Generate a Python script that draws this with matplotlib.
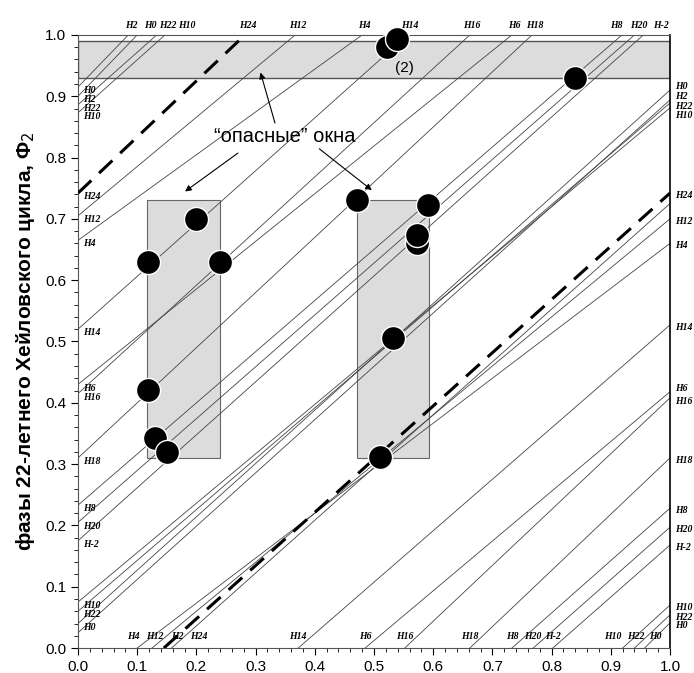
import matplotlib
matplotlib.use("Agg")
import matplotlib.pyplot as plt
from matplotlib.patches import Rectangle

# линии фаз: метка в начале, метка в конце, начало (x0, y0), конец (x1, y1)
name_start = ["H0", "H2", "H22", "H10", "H24", "H12", "H4", "H14", "H6", "H16",
              "H18", "H8", "H20", "H-2",
              "H10", "H22", "H0", "",
              "H24", "H12", "H4", "H2", "H14", "H6", "H16", "H18", "H8", "H20", "H-2",
              "H10", "H22", "H0"]
name_end = ["H2", "H0", "H22", "H10", "H24", "H12", "H4", "H14", "H6", "H16",
            "H18", "H8", "H20", "H-2",
            "H10", "H22", "H0", "H2",
            "H24", "H12", "H4", "", "H14", "H6", "H16", "H18", "H8", "H20", "H-2",
            "H10", "H22", "H0"]
x0 = [0, 0, 0, 0, 0, 0, 0, 0, 0, 0, 0, 0, 0, 0,
      0, 0, 0, 0,
      0.145, 0.125, 0.10, 0.158, 0.372, 0.485, 0.552, 0.662, 0.733, 0.769, 0.802,
      0.92, 0.94, 0.957]
y0 = [0.915, 0.900, 0.886, 0.873, 0.742, 0.705, 0.665, 0.52, 0.43, 0.415,
      0.31, 0.233, 0.205, 0.175,
      0.075, 0.06, 0.04, 0.025,
      0, 0, 0, 0, 0, 0, 0, 0, 0, 0, 0, 0, 0, 0]
x1 = [0.085, 0.100, 0.133, 0.147, 0.282, 0.367, 0.48, 0.557, 0.733, 0.662,
      0.767, 0.919, 0.94, 0.955,
      1, 1, 1, 1,
      1, 1, 1, 1, 1, 1, 1, 1, 1, 1, 1, 1, 1, 1]
y1 = [1, 1, 1, 1, 1, 1, 1, 1, 1, 1, 1, 1, 1, 1,
      0.881, 0.889, 0.91, 0.894,
      0.742, 0.70, 0.66, 0.725, 0.527, 0.418, 0.408, 0.31, 0.228, 0.197, 0.168,
      0.07, 0.054, 0.041]
dashed = ["H24"]
# где стоят подписи в тесных группах
top_label_x = {"H2": 0.09, "H0": 0.122, "H22": 0.152, "H10": 0.183,
               "H8": 0.91, "H20": 0.948, "H-2": 0.984}
bottom_label_x = {"H4": 0.093, "H12": 0.13, "H2": 0.168, "H24": 0.204,
                  "H10": 0.903, "H22": 0.942, "H0": 0.975}
right_label_y = {"H0": 0.916, "H2": 0.9, "H22": 0.884, "H10": 0.868,
                 "H6": 0.424, "H16": 0.402}

# "опасные" окна и события
band_y = [0.93, 0.99]
win_x = [[0.117, 0.24], [0.471, 0.593]]
win_y = [0.31, 0.73]
ev_x = [0.522, 0.539, 0.84, 0.118, 0.20, 0.24, 0.118, 0.13, 0.15,
        0.471, 0.591, 0.572, 0.572, 0.532, 0.51]
ev_y = [0.98, 0.993, 0.93, 0.63, 0.70, 0.63, 0.421, 0.342, 0.32,
        0.73, 0.723, 0.66, 0.673, 0.506, 0.312]

fig = plt.figure(figsize=(6.94, 6.73), dpi=100)
ax = fig.add_axes([0.1124, 0.0371, 0.853, 0.911])
ax.set_xlim(0, 1)
ax.set_ylim(0, 1)

gray = "#dcdcdc"
ax.add_patch(Rectangle((0, band_y[0]), 1, band_y[1] - band_y[0],
                       facecolor=gray, edgecolor="#555555", lw=1, zorder=1))
for wx in win_x:
    ax.add_patch(Rectangle((wx[0], win_y[0]), wx[1] - wx[0], win_y[1] - win_y[0],
                           facecolor=gray, edgecolor="#666666", lw=0.8, zorder=1))

lab = dict(family="Liberation Serif", style="italic", weight="bold",
           fontsize=7, color="black", clip_on=False)
for i in range(len(x0)):
    if name_start[i] in dashed and name_end[i] in dashed:
        ax.plot([x0[i], x1[i]], [y0[i], y1[i]], color="black", lw=2.2,
                dashes=(6, 3.5), zorder=3)
    else:
        ax.plot([x0[i], x1[i]], [y0[i], y1[i]], color="#444444", lw=0.6, zorder=2)
    # метки на концах линий
    if name_start[i]:
        if x0[i] == 0:
            ax.text(0.008, y0[i] - 0.006, name_start[i], ha="left", va="center", **lab)
        else:
            bx = x0[i]
            if x0[i] < 0.2 or x0[i] > 0.9:
                bx = bottom_label_x[name_start[i]]
            ax.text(bx, 0.012, name_start[i], ha="center", va="bottom", **lab)
    if not name_end[i]:
        continue
    if y1[i] == 1:
        tx = top_label_x.get(name_end[i], x1[i] + 0.004)
        ax.text(tx, 1.008, name_end[i], ha="center", va="bottom", **lab)
    else:
        ry = y1[i] - 0.004
        if y1[i] > 0.3:
            ry = right_label_y.get(name_end[i], ry)
        ax.text(1.008, ry, name_end[i], ha="left", va="center", **lab)

ax.scatter(ev_x, ev_y, s=300, color="black", edgecolors="white", linewidths=1.0,
           zorder=5, clip_on=False)

ax.text(0.552, 0.946, "(2)", ha="center", va="center", fontsize=11,
        family="Liberation Sans", zorder=6)
ax.text(0.35, 0.835, "\u201cопасные\u201d окна", ha="center", va="center",
        fontsize=14.5, family="Liberation Sans", zorder=6)

arr = dict(arrowstyle="-|>", color="black", lw=0.8, mutation_scale=9)
ax.annotate("", xy=(0.177, 0.742), xytext=(0.274, 0.81), arrowprops=arr, zorder=6)
ax.annotate("", xy=(0.50, 0.744), xytext=(0.404, 0.817), arrowprops=arr, zorder=6)
ax.annotate("", xy=(0.307, 0.943), xytext=(0.334, 0.852), arrowprops=arr, zorder=6)

ax.set_xticks([i / 10 for i in range(11)])
ax.set_yticks([i / 10 for i in range(11)])
ax.set_xticks([i / 50 for i in range(51)], minor=True)
ax.set_yticks([i / 50 for i in range(51)], minor=True)
ax.tick_params(which="major", direction="out", length=5, width=0.8, labelsize=11)
ax.tick_params(which="minor", direction="out", length=3, width=0.6)
for t in ax.get_xticklabels() + ax.get_yticklabels():
    t.set_family("Liberation Sans")
ax.spines["top"].set_color("#555555")
ax.spines["right"].set_linewidth(1.2)
ax.spines["left"].set_color("#555555")
ax.spines["bottom"].set_color("#555555")

ax.set_ylabel("фазы 22-летнего Хейловского цикла, Φ$_2$", fontsize=15,
              weight="bold", family="Liberation Sans", labelpad=6)

fig.savefig("out.png", dpi=100)
